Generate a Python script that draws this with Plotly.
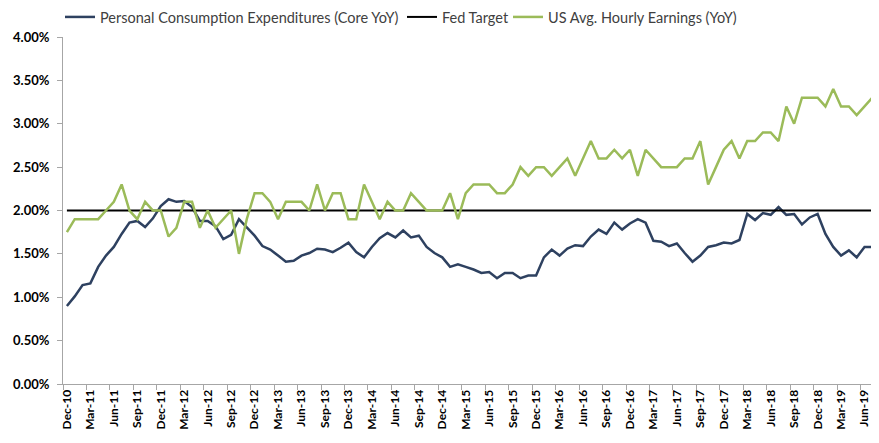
import plotly.graph_objects as go
import pandas as pd

# Monthly categories Dec-10 .. Aug-19
months = [p.strftime("%b-%y") for p in pd.period_range("2010-12", "2019-08", freq="M")]

pce_core_yoy = [
    0.90, 1.01, 1.14, 1.16, 1.35, 1.48, 1.58, 1.73, 1.86, 1.88,
    1.81, 1.91, 2.05, 2.13, 2.10, 2.11, 2.04, 1.88, 1.88, 1.82,
    1.67, 1.72, 1.90, 1.81, 1.71, 1.59, 1.55, 1.48, 1.41, 1.42,
    1.48, 1.51, 1.56, 1.55, 1.52, 1.57, 1.63, 1.52, 1.46, 1.58,
    1.68, 1.74, 1.69, 1.77, 1.69, 1.71, 1.58, 1.51, 1.46, 1.35,
    1.38, 1.35, 1.32, 1.28, 1.29, 1.22, 1.28, 1.28, 1.22, 1.25,
    1.25, 1.46, 1.55, 1.48, 1.56, 1.60, 1.59, 1.70, 1.78, 1.73,
    1.86, 1.78, 1.85, 1.90, 1.86, 1.65, 1.64, 1.59, 1.62, 1.51,
    1.41, 1.48, 1.58, 1.60, 1.63, 1.62, 1.66, 1.96, 1.89, 1.97,
    1.95, 2.04, 1.95, 1.96, 1.84, 1.92, 1.96, 1.73, 1.58, 1.48,
    1.54, 1.46, 1.58, 1.58, None,
]

avg_hourly_earnings_yoy = [
    1.75, 1.9, 1.9, 1.9, 1.9, 2.0, 2.1, 2.3, 2.0, 1.9,
    2.1, 2.0, 2.0, 1.7, 1.8, 2.1, 2.1, 1.8, 2.0, 1.8,
    1.9, 2.0, 1.5, 1.9, 2.2, 2.2, 2.1, 1.9, 2.1, 2.1,
    2.1, 2.0, 2.3, 2.0, 2.2, 2.2, 1.9, 1.9, 2.3, 2.1,
    1.9, 2.1, 2.0, 2.0, 2.2, 2.1, 2.0, 2.0, 2.0, 2.2,
    1.9, 2.2, 2.3, 2.3, 2.3, 2.2, 2.2, 2.3, 2.5, 2.4,
    2.5, 2.5, 2.4, 2.5, 2.6, 2.4, 2.6, 2.8, 2.6, 2.6,
    2.7, 2.6, 2.7, 2.4, 2.7, 2.6, 2.5, 2.5, 2.5, 2.6,
    2.6, 2.8, 2.3, 2.5, 2.7, 2.8, 2.6, 2.8, 2.8, 2.9,
    2.9, 2.8, 3.2, 3.0, 3.3, 3.3, 3.3, 3.2, 3.4, 3.2,
    3.2, 3.1, 3.2, 3.3, 3.22,
]

fed_target = [2.0] * len(months)

y_ticks = [0.0, 0.5, 1.0, 1.5, 2.0, 2.5, 3.0, 3.5, 4.0]

x = list(range(len(months)))
tick_idx = list(range(0, len(months), 3))
tick_text = [months[i] for i in tick_idx]
boundary_ticks = [i - 0.5 for i in tick_idx] + [tick_idx[-1] + 2.5]

FONT = "Lato, 'Open Sans', sans-serif"
W, H = 871, 435  # page adds an 8px body margin
MT, MB = 29, 59
PLOT_H = H - MT - MB

fig = go.Figure()
fig.add_trace(go.Scatter(
    x=x, y=pce_core_yoy, mode="lines", name="Personal Consumption Expenditures (Core YoY)",
    line=dict(color="#2E4160", width=2.5), connectgaps=False, legend="legend",
))
fig.add_trace(go.Scatter(
    x=x, y=fed_target, mode="lines", name="Fed Target",
    line=dict(color="#000000", width=2), legend="legend2",
))
fig.add_trace(go.Scatter(
    x=x, y=avg_hourly_earnings_yoy, mode="lines", name="US Avg. Hourly Earnings (YoY)",
    line=dict(color="#9BBB59", width=2.5), legend="legend3",
))

def leg(xpx):
    return dict(
        orientation="h", x=xpx / W, xanchor="left", xref="container",
        y=1 + (MT - 9) / PLOT_H, yanchor="middle", yref="paper",
        font=dict(family=FONT, size=14.5, color="#404040"),
        itemwidth=30, bgcolor="rgba(0,0,0,0)",
    )

fig.update_layout(
    width=W, height=H,
    margin=dict(l=55, r=0, t=MT, b=MB, autoexpand=False),
    paper_bgcolor="white", plot_bgcolor="white",
    font=dict(family=FONT, size=14.5, color="#404040"),
    showlegend=True,
    legend=leg(52), legend2=leg(394), legend3=leg(500),
    xaxis=dict(
        range=[-0.5, 103.85], showgrid=False, zeroline=False, automargin=False,
        showline=True, linecolor="#A6A6A6", linewidth=1,
        tickmode="array", tickvals=tick_idx, ticktext=tick_text,
        ticks="", tickangle=-90,
        tickfont=dict(family=FONT, size=12, color="#000000", weight="bold"),
        minor=dict(tickmode="array", tickvals=boundary_ticks, ticks="outside",
                   ticklen=5, tickcolor="#A6A6A6", tickwidth=1, showgrid=False),
    ),
    yaxis=dict(
        range=[0, 4], showgrid=False, zeroline=False, automargin=False,
        showline=True, linecolor="#A6A6A6", linewidth=1,
        tickmode="array", tickvals=y_ticks, ticktext=[f"{v:.2f}%" for v in y_ticks],
        ticks="outside", ticklen=5, tickcolor="#A6A6A6", ticklabelstandoff=5,
        tickfont=dict(family=FONT, size=13, color="#000000", weight="bold"),
    ),
)

fig.write_html("out.html")
